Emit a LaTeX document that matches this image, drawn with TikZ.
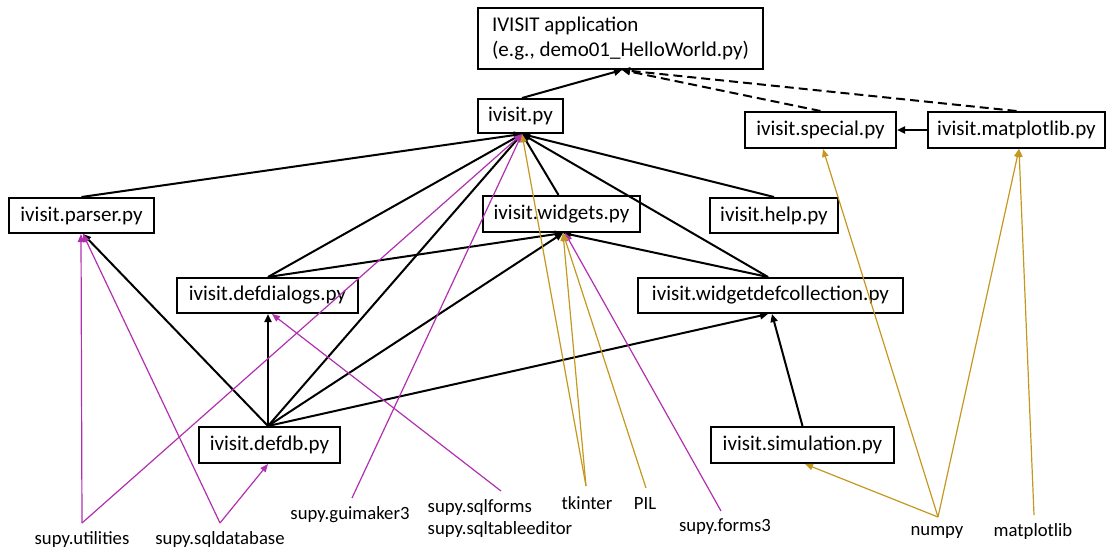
\documentclass[tikz,border=0pt]{standalone}
\usepackage{fontspec}
\setmainfont{Carlito}
\usetikzlibrary{arrows.meta}
\definecolor{gold}{RGB}{196,152,32}
\definecolor{mag}{RGB}{176,48,176}
\begin{document}
\begin{tikzpicture}[x=1pt,y=-1pt,
  box/.style={draw,line width=2pt,inner sep=0pt,font=\fontsize{21}{25}\selectfont},
  lbl/.style={inner sep=0pt,font=\fontsize{18.7}{22}\selectfont},
  dep/.style={line width=2pt,-{Triangle[length=8pt,width=7pt]}},
  dash dep/.style={dep,dash pattern=on 9pt off 5pt},
  mdep/.style={mag,line width=1.2pt,-{Triangle[length=8pt,width=6.5pt]}},
  gdep/.style={gold,line width=1.2pt,-{Triangle[length=8pt,width=6.5pt]}}]
\useasboundingbox (0,0) rectangle (1108,550);

% boxes
\node[box,minimum width=285pt,minimum height=61pt,align=left] (app) at (620.5,38.5)
  {IVISIT application\\(e.g., demo01\_HelloWorld.py)};
\node[box,minimum width=85pt,minimum height=34pt] (ivpy) at (520.5,116) {ivisit.py};
\node[box,minimum width=151pt,minimum height=36pt] (special) at (820.5,130) {ivisit.special.py};
\node[box,minimum width=177pt,minimum height=36pt] (mpl) at (1016.5,130) {ivisit.matplotlib.py};
\node[box,minimum width=145pt,minimum height=35pt] (parser) at (81.5,215.5) {ivisit.parser.py};
\node[box,minimum width=157pt,minimum height=36pt] (widgets) at (561.5,214) {ivisit.widgets.py};
\node[box,minimum width=128pt,minimum height=35pt] (help) at (774,215.5) {ivisit.help.py};
\node[box,minimum width=181pt,minimum height=35pt] (defdialogs) at (267.5,295.5) {ivisit.defdialogs.py};
\node[box,minimum width=265pt,minimum height=35pt] (wdc) at (770.5,295.5) {ivisit.widgetdefcollection.py};
\node[box,minimum width=141pt,minimum height=36pt] (defdb) at (269.5,445) {ivisit.defdb.py};
\node[box,minimum width=183pt,minimum height=36pt] (sim) at (802.5,445) {ivisit.simulation.py};

% labels
\node[lbl] (util) at (82,540) {supy.utilities};
\node[lbl] (sqldb) at (220,540) {supy.sqldatabase};
\node[lbl] (gui) at (350,515) {supy.guimaker3};
\node[lbl,align=left,font=\fontsize{18.7}{22}\selectfont] (sqlforms) at (500,519) {supy.sqlforms\\supy.sqltableeditor};
\node[lbl] (tk) at (587,503) {tkinter};
\node[lbl] (pil) at (645,503) {PIL};
\node[lbl] (forms3) at (725,527) {supy.forms3};
\node[lbl] (numpy) at (937,532) {numpy};
\node[lbl] (mplib) at (1033,532) {matplotlib};

% connection points
\coordinate (appin) at ([xshift=1.5pt]app.south);
\coordinate (ivin) at ([xshift=1.5pt]ivpy.south);
\coordinate (ivout) at ([xshift=1.5pt]ivpy.north);
\coordinate (wdin) at ([xshift=1.5pt]widgets.south);
\coordinate (wdmin) at ([xshift=3.5pt]widgets.south);
\coordinate (wdout) at ([xshift=-3pt]widgets.north);
\coordinate (parin) at ([xshift=1.5pt]parser.south);
\coordinate (parmin) at ([xshift=-0.5pt]parser.south);
\coordinate (ddin) at ([xshift=0.5pt]defdialogs.south);
\coordinate (ddmin) at ([xshift=4.5pt]defdialogs.south);
\coordinate (ddout) at ([xshift=0.5pt]defdialogs.north);
\coordinate (wdcin) at ([xshift=-2.5pt]wdc.south);
\coordinate (wdcsin) at ([xshift=1.5pt]wdc.south);
\coordinate (wdcout) at ([xshift=-2.5pt]wdc.north);
\coordinate (dbout) at ([xshift=-1.5pt]defdb.north);
\coordinate (dbin) at ([xshift=-1.5pt]defdb.south);
\coordinate (simin) at ([xshift=2.5pt]sim.south);
\coordinate (spin) at ([xshift=2.5pt]special.south);
\coordinate (mplin) at ([xshift=2.5pt]mpl.south);

\coordinate (utilend) at (82,523);
\coordinate (sqldbend) at (220,523);
\coordinate (guiend) at (352,498);
\coordinate (sqlfend) at (501,491);
\coordinate (tkend) at (586,486);
\coordinate (pilend) at (646,488);
\coordinate (f3end) at (721,511);
\coordinate (npend) at (938,517);
\coordinate (mlend) at (1034,515);

% black dependencies
\draw[dep] (ivout) -- (appin);
\draw[dep] (parser.north) -- (ivin);
\draw[dep] (ddout) -- (ivin);
\draw[dep] (dbout) -- (ivin);
\draw[dep] (wdout) -- (ivin);
\draw[dep] (help.north) -- (ivin);
\draw[dep] (wdcout) -- (ivin);
\draw[dep] (ddout) -- (wdin);
\draw[dep] (dbout) -- (wdin);
\draw[dep] (wdcout) -- (wdin);
\draw[dep] (dbout) -- (parin);
\draw[dep] (dbout) -- (ddin);
\draw[dep] (dbout) -- (wdcin);
\draw[dep] (sim.north) -- (wdcsin);
\draw[dep] (mpl.west) -- (special.east);
\draw[dash dep] (special.north) -- (appin);
\draw[dash dep] (mpl.north) -- (appin);

% supy (magenta)
\draw[mdep] (utilend) -- (parmin);
\draw[mdep] (utilend) -- (ivin);
\draw[mdep] (sqldbend) -- (parin);
\draw[mdep] (sqldbend) -- (dbin);
\draw[mdep] (guiend) -- (ivin);
\draw[mdep] (sqlfend) -- (ddmin);
\draw[mdep] (f3end) -- (wdmin);

% external (gold)
\draw[gdep] (tkend) -- (ivin);
\draw[gdep] (tkend) -- (wdin);
\draw[gdep] (pilend) -- (wdin);
\draw[gdep] (npend) -- (simin);
\draw[gdep] (npend) -- (spin);
\draw[gdep] (npend) -- (mplin);
\draw[gdep] (mlend) -- (mplin);
\end{tikzpicture}
\end{document}
